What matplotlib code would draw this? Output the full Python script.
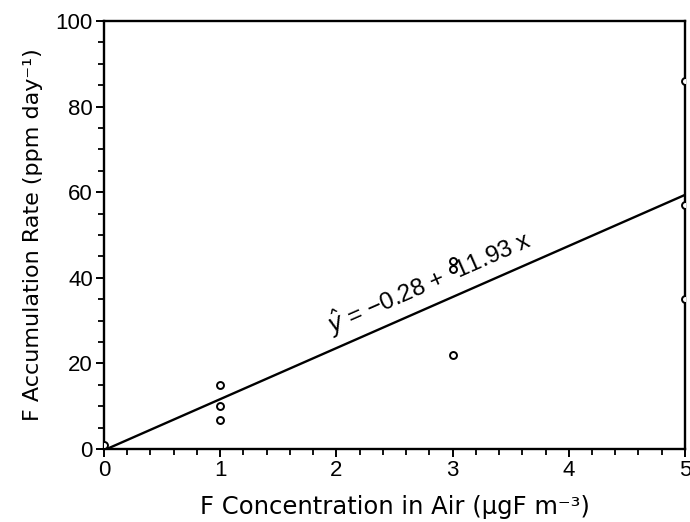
import matplotlib
matplotlib.use('Agg')
import matplotlib.pyplot as plt
import numpy as np
from matplotlib.ticker import MultipleLocator

# observed data points
conc_x = [0, 1, 1, 1, 3, 3, 3, 5, 5, 5]
rate_y = [1, 15, 10, 6.8, 22, 42, 44, 86, 57, 35]

# fitted regression
intercept = -0.28
slope = 11.93

fig = plt.figure(figsize=(6.9, 5.22), dpi=100)
ax = fig.add_axes([0.1507, 0.1398, 0.842, 0.820])

ax.plot(conc_x, rate_y, linestyle='none', marker='o', markersize=5,
        markerfacecolor='white', markeredgecolor='black', markeredgewidth=1.4,
        clip_on=True, zorder=3)

xs = np.array([0, 5])
ax.plot(xs, intercept + slope * xs, color='black', linewidth=1.7, zorder=2)

ax.set_xlim(0, 5)
ax.set_ylim(0, 100)
ax.xaxis.set_major_locator(MultipleLocator(1))
ax.xaxis.set_minor_locator(MultipleLocator(0.2))
ax.yaxis.set_major_locator(MultipleLocator(20))
ax.yaxis.set_minor_locator(MultipleLocator(5))
ax.tick_params(which='major', direction='out', length=6, width=1.4,
               labelsize=16, pad=2)
ax.tick_params(which='minor', direction='out', length=4, width=1.3)
for lab in ax.get_xticklabels() + ax.get_yticklabels():
    lab.set_family('Liberation Sans')
for sp in ax.spines.values():
    sp.set_linewidth(1.7)

ax.set_xlabel('F Concentration in Air (\u03bcgF m\u207b\u00b3)', fontsize=17.5,
              labelpad=10)
ax.set_ylabel('F Accumulation Rate (ppm day\u207b\u00b9)', fontsize=16,
              labelpad=9)

# angle of the fitted line on screen
p0 = ax.transData.transform((0, intercept))
p1 = ax.transData.transform((5, intercept + slope * 5))
angle = np.degrees(np.arctan2(p1[1] - p0[1], p1[0] - p0[0]))
ax.text(1.99, 25.3, '$\\hat{y}$ = \u22120.28 +  11.93 x', rotation=angle,
        rotation_mode='anchor', ha='left', va='bottom', fontsize=17.5,
        family='Liberation Sans')

plt.savefig('out.png', dpi=100)
